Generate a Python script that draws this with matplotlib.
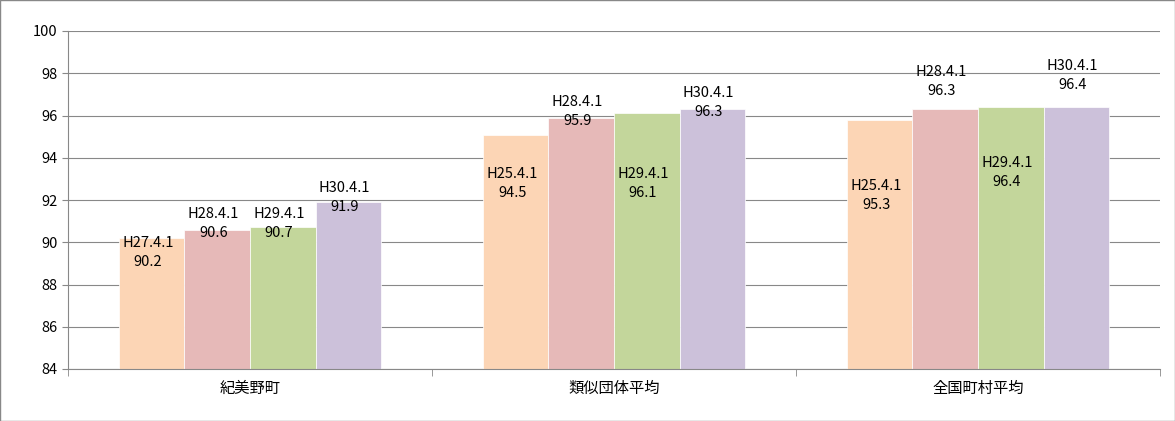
import matplotlib.pyplot as plt
import numpy as np

plt.rcParams['font.family'] = ['Noto Sans CJK JP', 'DejaVu Sans']

groups = ['紀美野町', '類似団体平均', '全国町村平均']
values = [
    [90.2, 90.6, 90.7, 91.9],
    [95.1, 95.9, 96.1, 96.3],
    [95.8, 96.3, 96.4, 96.4],
]
labels = [
    ['H27.4.1\n90.2', 'H28.4.1\n90.6', 'H29.4.1\n90.7', 'H30.4.1\n91.9'],
    ['H25.4.1\n94.5', 'H28.4.1\n95.9', 'H29.4.1\n96.1', 'H30.4.1\n96.3'],
    ['H25.4.1\n95.3', 'H28.4.1\n96.3', 'H29.4.1\n96.4', 'H30.4.1\n96.4'],
]
label_y = [
    [89.5, 90.9, 90.9, 92.1],
    [92.8, 96.2, 92.8, 96.6],
    [92.2, 97.6, 93.3, 97.9],
]
colors = ['#FCD5B5', '#E6B9B8', '#C3D69B', '#CCC1DA']

fig = plt.figure(figsize=(11.75, 4.21), dpi=100)
fig.patches.append(plt.Rectangle((0, 0), 1, 1, transform=fig.transFigure,
                                 fill=False, edgecolor='#888888', lw=1))
ax = fig.add_axes([68 / 1175, 52 / 421, 1092 / 1175, 338 / 421])

w = 0.18
x = np.arange(len(groups))
for i in range(4):
    xs = x + (i - 1.5) * w
    ax.bar(xs, [v[i] - 84 for v in values], w, bottom=84,
           color=colors[i], edgecolor='white', lw=0.5, zorder=2)
    for g in range(len(groups)):
        ax.text(xs[g] - 0.01, label_y[g][i], labels[g][i], ha='center',
                va='center', fontsize=10.5, linespacing=1.45, zorder=3)

ax.set_ylim(84, 100)
ax.set_yticks(np.arange(84, 101, 2))
ax.set_xlim(-0.5, 2.5)
ax.set_xticks(x)
ax.set_xticklabels(groups, fontsize=11)
ax.set_xticks([-0.5, 0.5, 1.5, 2.5], minor=True)
ax.tick_params(axis='x', which='major', length=0, pad=8)
ax.tick_params(axis='x', which='minor', length=5, color='#888888')
ax.tick_params(axis='y', labelsize=10.5, length=4, color='#888888')
ax.grid(axis='y', color='#888888', lw=0.8, zorder=0)
for s in ['top', 'right']:
    ax.spines[s].set_visible(False)
for s in ['left', 'bottom']:
    ax.spines[s].set_color('#888888')

fig.savefig('out.png')
